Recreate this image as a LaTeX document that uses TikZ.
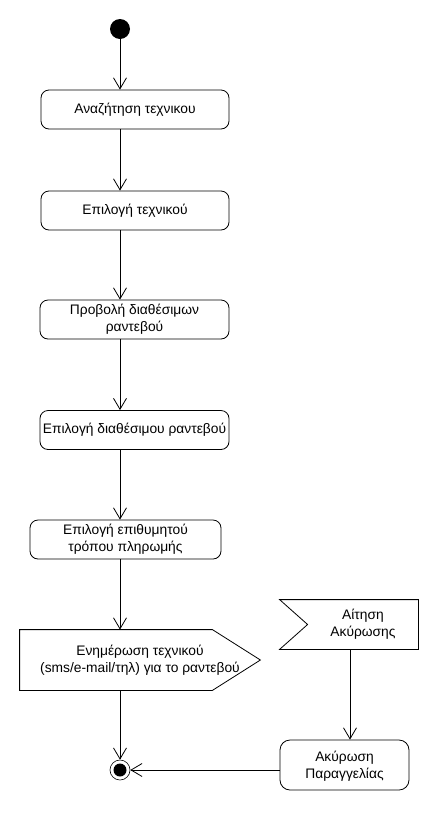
\documentclass[tikz,border=0pt]{standalone}
\usepackage{fontspec}
\setmainfont{Liberation Sans}
\usetikzlibrary{arrows.meta,calc}

\tikzset{
  act/.style={draw, rounded corners=8pt, minimum height=39pt, align=center, inner sep=0pt},
  sigbox/.style={minimum height=60pt, align=center, inner sep=0pt},
  flow/.style={-{Straight Barb[length=11pt,width=13pt]}},
}

\begin{document}
\begin{tikzpicture}[x=1pt,y=-1pt, line width=0.8pt, font=\fontsize{13.8}{17}\selectfont]
	\useasboundingbox (0,0) rectangle (440,820);
	\node[circle, fill, minimum size=20pt, inner sep=0pt] (start) at (120,29) {};
	\node[act, minimum width=188pt] (search) at (135,109.5) {Αναζήτηση τεχνικου};
	\node[act, minimum width=188pt] (choose) at (135,210.5) {Επιλογή τεχνικού};
	\node[act, minimum width=189pt] (show) at (134.5,319.5) {Προβολή διαθέσιμων\\ραντεβού};
	\node[act, minimum width=189pt] (pick) at (134.5,430) {Επιλογή διαθέσιμου ραντεβού};
	\node[act, minimum width=191pt] (pay) at (125.5,539.5) {Επιλογή επιθυμητού\\τρόπου πληρωμής};
	% send signal
	\node[sigbox, minimum width=240pt] (notify) at (140,660) {Ενημέρωση τεχνικού\\(sms/e-mail/τηλ) για το ραντεβού};
	\draw (notify.north west) -- ($(notify.north east)+(-48,0)$) -- (notify.east) -- ($(notify.south east)+(-48,0)$) -- (notify.south west) -- cycle;
	% accept event
	\node[sigbox, minimum width=138pt, minimum height=49pt] (request) at (349,624.5) {\hspace*{28pt}Αίτηση\\\hspace*{28pt}Ακύρωσης};
	\draw (request.north west) -- (request.north east) -- (request.south east) -- (request.south west) -- ($(request.west)+(28,0)$) -- cycle;
	\node[act, minimum width=129pt, minimum height=50pt, rounded corners=10pt, text depth=-4pt] (cancel) at (344.5,765) {Ακύρωση\\Παραγγελίας};
	\node[circle, draw, line width=0.6pt, minimum size=20pt, inner sep=0pt] (final) at (120,770) {};
	\fill (final) circle (6.5);

	\draw[flow] (start) -- (start |- search.north);
	\draw[flow] (search.south -| start) -- (choose.north -| start);
	\draw[flow] (choose.south -| start) -- (show.north -| start);
	\draw[flow] (show.south -| start) -- (pick.north -| start);
	\draw[flow] (pick.south -| start) -- (pay.north -| start);
	\draw[flow] (pay.south -| start) -- (notify.north -| start);
	\draw[flow] (notify.south -| start) -- (final);
	\draw[flow] ($(request.south)+(1,0)$) -- ($(request.south |- cancel.north)+(1,0)$);
	\draw[flow] (cancel.west |- final) -- (final);
\end{tikzpicture}
\end{document}
